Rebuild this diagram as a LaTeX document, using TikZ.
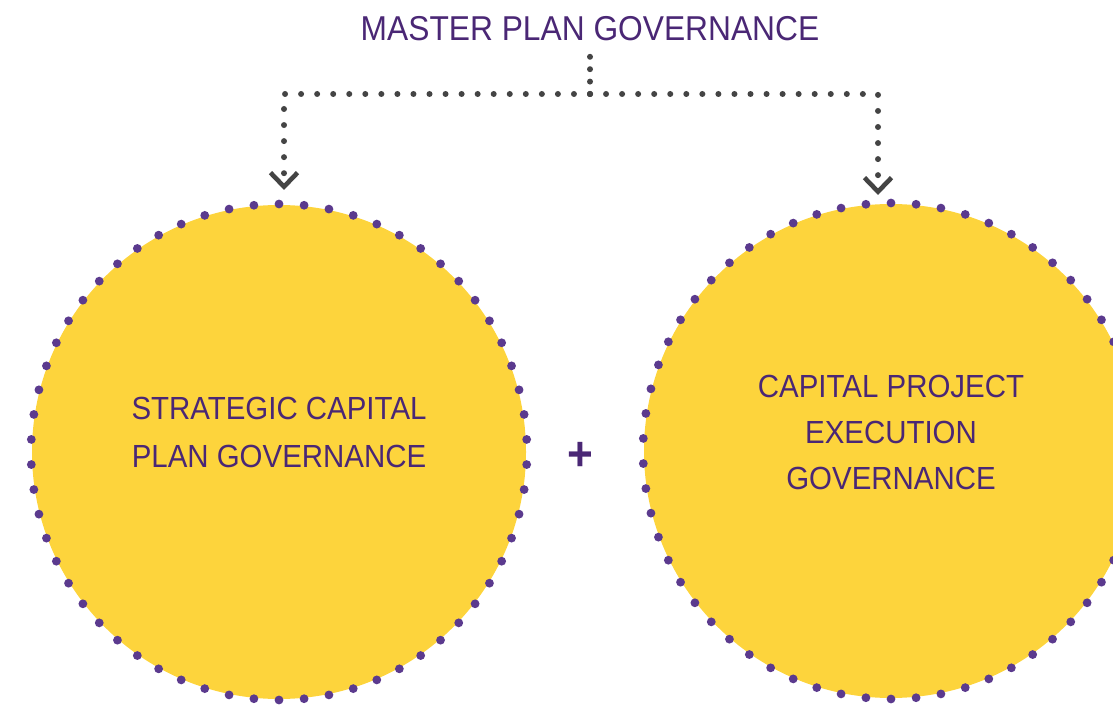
\documentclass[tikz,border=0pt]{standalone}
\usepackage{fontspec}
\newfontfamily\govfont{Liberation Sans}[FakeStretch=0.92]
\usetikzlibrary{arrows.meta,positioning}
\definecolor{govpurple}{HTML}{4A2775}
\definecolor{rimpurple}{HTML}{5B3A8E}
\definecolor{govyellow}{HTML}{FDD43C}
\definecolor{linkgray}{HTML}{444444}

\begin{document}
\begin{tikzpicture}[x=1pt,y=-1pt,
    every node/.style={font=\govfont\fontsize{32}{48}\selectfont,text=govpurple,inner sep=2pt},
    link/.style={linkgray,line width=6pt,line cap=round,dash pattern=on 0pt off 16.05pt},
    chevtip/.style={-{Straight Barb[length=14pt,width=27pt,line width=4.6pt]}}]
  \useasboundingbox (0,0) rectangle (1113,708);
  \def\R{248}
  \coordinate (L) at (279,452);
  \coordinate (Rc) at (891,451);
  % yellow discs with a ring of purple dots
  \foreach \c in {L,Rc} {
    \fill[govyellow] (\c) circle (247pt);
    \foreach \k in {0,...,61} {
      \fill[rimpurple] (\c) ++({90+\k*(360/62)}:\R pt) circle (4.4pt);
    }
  }

  \node[font=\govfont\fontsize{34.5}{40}\selectfont] (mpg) at (590,28.5) {MASTER PLAN GOVERNANCE};
  \coordinate (split) at (590,94);
  \coordinate (tipL) at (284,190);
  \coordinate (tipR) at (878,195);
  \draw[link,dash pattern=on 0pt off 12.4pt,shorten >=10pt] (split) -- (mpg.south);
  \draw[link,chevtip] (split) -| (tipL);
  \draw[link,chevtip] (split) -| (tipR);

  \node[align=center] (scp) at (279,432.5) {STRATEGIC CAPITAL\\PLAN GOVERNANCE};
  \node[align=center,font=\govfont\fontsize{32}{46}\selectfont] (cpe) at (891,432.5)
    {CAPITAL PROJECT\\EXECUTION\\GOVERNANCE};
  \node[font=\govfont\bfseries\fontsize{48}{48}\selectfont] (plus) at (580,456) {+};
\end{tikzpicture}
\end{document}
